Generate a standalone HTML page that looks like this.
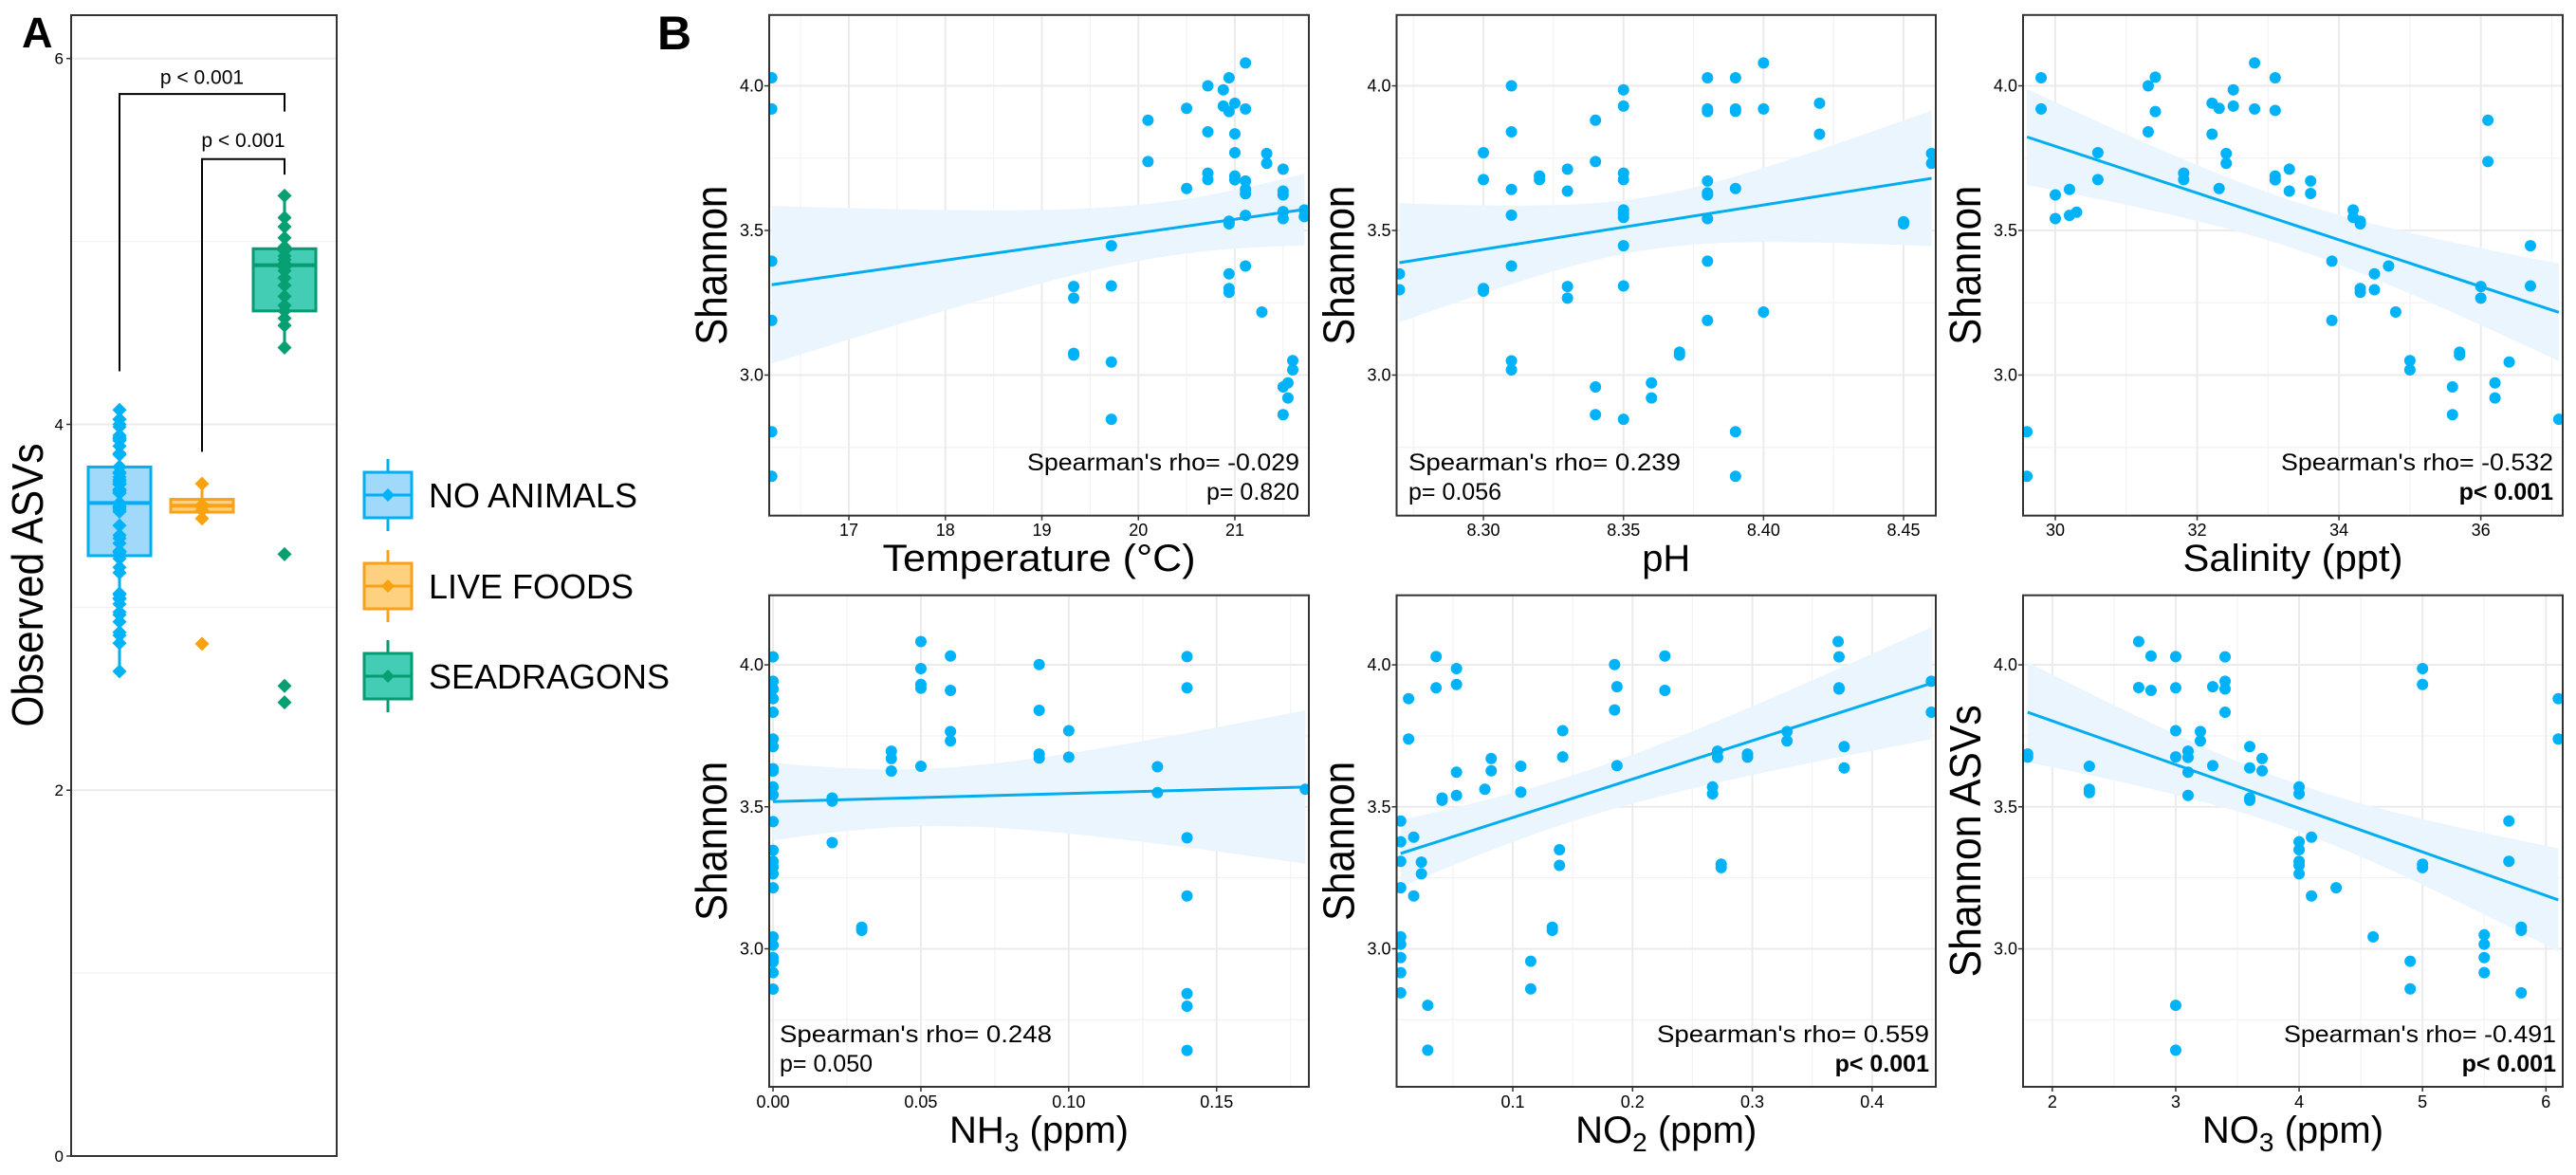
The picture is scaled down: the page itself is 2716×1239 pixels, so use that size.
<!DOCTYPE html>
<html><head><meta charset="utf-8"><style>
html,body{margin:0;padding:0;background:#fff}
svg{display:block}
text{font-family:"Liberation Sans Narrow","Liberation Sans",sans-serif;fill:#000}
</style></head><body>
<svg id="fig" width="2716" height="1239" viewBox="0 0 2716 1239" xmlns="http://www.w3.org/2000/svg">
<rect width="2716" height="1239" fill="#fff"/>
<text x="23" y="50" style="font-family:'Liberation Sans',sans-serif;font-weight:bold;font-size:45px">A</text>
<text x="693" y="52" style="font-family:'Liberation Sans',sans-serif;font-weight:bold;font-size:50px">B</text>
</svg>
<script>
// ---------- Panel A data ----------
const groupNames = ['NO ANIMALS','LIVE FOODS','SEADRAGONS'];
const boxQ1 = [3.282, 3.52, 4.62];
const boxMed = [3.57, 3.555, 4.87];
const boxQ3 = [3.767, 3.59, 4.96];
const whiskLo = [2.65, 3.485, 4.42];
const whiskHi = [4.08, 3.675, 5.25];
const noAnimalsPts = [4.028,3.920,3.394,3.189,2.804,2.650,3.306,3.266,3.075,3.069,3.447,3.308,3.045,2.847,3.881,3.738,3.922,3.645,4.0,3.841,3.698,3.676,3.986,3.930,4.028,3.911,3.532,3.523,3.350,3.299,3.286,3.940,3.834,3.769,3.688,3.675,4.079,3.920,3.671,3.642,3.627,3.552,3.377,3.218,3.766,3.732,3.712,3.636,3.623,3.565,3.541,2.959,2.863,2.973,2.921,3.050,3.018,3.571,3.548];
const liveFoodsPts = [3.675,3.56,3.55,3.53,3.485,2.80];
const seadragonsPts = [5.25,5.13,5.08,5.02,4.97,4.95,4.92,4.90,4.88,4.86,4.84,4.80,4.76,4.70,4.65,4.62,4.58,4.54,4.42,3.29,2.57,2.48];
const aTicks = [0,2,4,6];
const aTickLabels = ['0','2','4','6'];
const pLabels = ['p < 0.001','p < 0.001'];

// ---------- Panel B data ----------
const tempX = [16.2,16.2,16.2,16.2,16.2,16.2,19.33,19.33,19.33,19.33,19.72,19.72,19.72,19.72,20.1,20.1,20.5,20.5,20.72,20.72,20.72,20.72,20.88,20.88,20.94,20.94,20.94,20.94,20.94,20.94,20.94,21.0,21.0,21.0,21.0,21.0,21.11,21.11,21.11,21.11,21.11,21.11,21.11,21.28,21.33,21.33,21.5,21.5,21.5,21.5,21.5,21.5,21.5,21.55,21.55,21.6,21.6,21.72,21.72];
const tempY = [4.028,3.920,3.394,3.189,2.804,2.650,3.306,3.266,3.075,3.069,3.447,3.308,3.045,2.847,3.881,3.738,3.922,3.645,4.0,3.841,3.698,3.676,3.986,3.930,4.028,3.911,3.532,3.523,3.350,3.299,3.286,3.940,3.834,3.769,3.688,3.675,4.079,3.920,3.671,3.642,3.627,3.552,3.377,3.218,3.766,3.732,3.712,3.636,3.623,3.565,3.541,2.959,2.863,2.973,2.921,3.050,3.018,3.571,3.548];
const phX = [8.27,8.27,8.30,8.30,8.30,8.30,8.31,8.31,8.31,8.31,8.31,8.31,8.31,8.32,8.32,8.33,8.33,8.33,8.33,8.34,8.34,8.34,8.34,8.35,8.35,8.35,8.35,8.35,8.35,8.35,8.35,8.35,8.35,8.36,8.36,8.37,8.37,8.38,8.38,8.38,8.38,8.38,8.38,8.38,8.38,8.38,8.39,8.39,8.39,8.39,8.39,8.39,8.40,8.40,8.40,8.42,8.42,8.45,8.45,8.46,8.46];
const phY = [3.350,3.295,3.769,3.676,3.299,3.290,4.0,3.841,3.642,3.553,3.377,3.049,3.018,3.688,3.676,3.712,3.636,3.306,3.266,3.881,3.738,2.959,2.863,3.986,3.930,3.698,3.676,3.571,3.558,3.545,3.447,3.308,2.847,2.973,2.921,3.079,3.069,4.028,3.920,3.911,3.671,3.630,3.623,3.541,3.394,3.189,4.028,3.920,3.912,3.645,2.804,2.650,4.079,3.920,3.218,3.940,3.833,3.530,3.523,3.766,3.732];
const salX = [29.6,29.6,29.8,29.8,30.0,30.0,30.2,30.2,30.3,30.6,30.6,31.31,31.31,31.41,31.41,31.81,31.81,32.21,32.21,32.31,32.31,32.41,32.41,32.51,32.51,32.81,32.81,33.1,33.1,33.1,33.1,33.3,33.3,33.6,33.6,33.9,33.9,34.2,34.2,34.3,34.3,34.3,34.3,34.5,34.5,34.7,34.8,35.0,35.0,35.6,35.6,35.7,35.7,36.0,36.0,36.1,36.1,36.2,36.2,36.4,36.7,36.7,37.1];
const salY = [2.804,2.650,4.028,3.920,3.623,3.541,3.642,3.552,3.563,3.769,3.676,4.0,3.841,4.030,3.911,3.698,3.676,3.940,3.833,3.922,3.645,3.766,3.732,3.986,3.930,4.079,3.920,4.028,3.915,3.688,3.675,3.712,3.636,3.671,3.628,3.394,3.189,3.571,3.545,3.532,3.523,3.299,3.286,3.350,3.295,3.377,3.218,3.050,3.018,2.959,2.863,3.079,3.069,3.306,3.266,3.881,3.738,2.973,2.921,3.045,3.447,3.308,2.847];
const nh3X = [0,0,0,0,0,0,0,0,0,0,0,0,0,0,0,0,0,0,0,0,0,0,0,0.02,0.02,0.02,0.03,0.03,0.04,0.04,0.04,0.05,0.05,0.05,0.05,0.05,0.06,0.06,0.06,0.06,0.09,0.09,0.09,0.09,0.10,0.10,0.13,0.13,0.14,0.14,0.14,0.14,0.14,0.14,0.14,0.18];
const nh3Y = [4.028,3.942,3.915,3.881,3.833,3.739,3.712,3.634,3.626,3.570,3.542,3.448,3.347,3.308,3.288,3.264,3.215,3.042,3.013,2.969,2.954,2.916,2.858,3.531,3.520,3.374,3.076,3.065,3.696,3.670,3.626,4.082,3.987,3.931,3.918,3.643,4.031,3.910,3.765,3.732,4.001,3.840,3.686,3.672,3.768,3.675,3.641,3.550,4.029,3.919,3.391,3.186,2.842,2.798,2.642,3.562];
const no2X = [0.0064,0.0064,0.0064,0.0064,0.0064,0.0064,0.0064,0.0064,0.0064,0.013,0.013,0.0173,0.0173,0.0237,0.0237,0.029,0.029,0.036,0.036,0.041,0.041,0.053,0.053,0.053,0.053,0.0767,0.082,0.082,0.1067,0.1067,0.115,0.115,0.133,0.133,0.139,0.139,0.1417,0.1417,0.185,0.185,0.187,0.187,0.227,0.227,0.2668,0.2668,0.271,0.271,0.274,0.274,0.296,0.296,0.329,0.329,0.3717,0.3724,0.3724,0.3724,0.3767,0.3767,0.4495,0.4495];
const no2Y = [3.450,3.377,3.308,3.215,3.042,3.016,2.969,2.916,2.845,3.881,3.739,3.393,3.186,3.305,3.264,2.801,2.643,4.029,3.919,3.531,3.523,3.987,3.931,3.622,3.540,3.562,3.670,3.627,3.643,3.552,2.956,2.859,3.076,3.065,3.349,3.294,3.768,3.676,4.001,3.841,3.923,3.645,4.031,3.910,3.570,3.546,3.696,3.674,3.298,3.286,3.686,3.675,3.765,3.732,4.082,4.028,3.919,3.915,3.712,3.637,3.942,3.833];
const no3X = [1.8,1.8,2.3,2.3,2.3,2.7,2.7,2.8,2.8,3.0,3.0,3.0,3.0,3.0,3.0,3.1,3.1,3.1,3.1,3.2,3.2,3.3,3.3,3.4,3.4,3.4,3.4,3.6,3.6,3.6,3.6,3.7,3.7,4.0,4.0,4.0,4.0,4.0,4.0,4.0,4.1,4.1,4.3,4.6,4.9,4.9,5.0,5.0,5.0,5.0,5.5,5.5,5.5,5.5,5.7,5.7,5.8,5.8,5.8,6.1,6.1];
const no3Y = [3.686,3.675,3.643,3.562,3.550,4.082,3.920,4.031,3.910,4.029,3.919,3.768,3.676,2.801,2.643,3.696,3.674,3.622,3.540,3.765,3.732,3.923,3.645,4.028,3.942,3.915,3.833,3.712,3.637,3.531,3.523,3.670,3.627,3.570,3.546,3.377,3.349,3.308,3.294,3.264,3.393,3.186,3.215,3.042,2.956,2.859,3.987,3.931,3.298,3.286,3.049,3.016,2.969,2.916,3.450,3.308,3.076,3.065,2.845,3.881,3.739];
const yTicksB = [3.0,3.5,4.0];
const yTickLabelsB = ['3.0','3.5','4.0'];
const tempTicks = [17,18,19,20,21];
const phTicks = [8.30,8.35,8.40,8.45];
const phTickLabels = ['8.30','8.35','8.40','8.45'];
const salTicks = [30,32,34,36];
const nh3Ticks = [0,0.05,0.10,0.15];
const nh3TickLabels = ['0.00','0.05','0.10','0.15'];
const no2Ticks = [0.1,0.2,0.3,0.4];
const no3Ticks = [2,3,4,5,6];
const rhoLabels = ["Spearman's rho= -0.029","Spearman's rho= 0.239","Spearman's rho= -0.532","Spearman's rho= 0.248","Spearman's rho= 0.559","Spearman's rho= -0.491"];
const pValLabels = ["p= 0.820","p= 0.056","p< 0.001","p= 0.050","p< 0.001","p< 0.001"];

const NS='http://www.w3.org/2000/svg';
const svg=document.getElementById('fig');
function mk(tag,attrs,parent,txt){const e=document.createElementNS(NS,tag);for(const k in attrs)e.setAttribute(k,attrs[k]);if(txt!==undefined)e.textContent=txt;(parent||svg).appendChild(e);return e;}

// ---------- Panel A ----------
(function(){
  const L=75,R=355,T=16,B=1219;
  const ya=v=>B-(v-0)*(B-61.7)/6;
  const g=mk('g',{});
  
  
  [1,3,5].forEach(v=>{const l=mk('line',{x1:L,x2:R,y1:ya(v),y2:ya(v),stroke:'#f2f2f2','stroke-width':1.2},g);});
  aTicks.forEach((v,i)=>{const l=mk('line',{x1:L,x2:R,y1:ya(v),y2:ya(v),stroke:'#ebebeb','stroke-width':2},g);
    const tk=mk('line',{x1:L-5,x2:L,y1:ya(v),y2:ya(v),stroke:'#333','stroke-width':1.5},g);
    const t=mk('text',{x:L-8,y:ya(v)+6,'text-anchor':'end','font-size':17,fill:'#222'},g,aTickLabels[i]);});
  const cx=[126,213,300], hw=33;
  const stroke=['#00aff0','#f8a11a','#079b71'], fill=['#a1d9fb','#fdd17f','#43cdb5'], dot=['#00b2f7','#f8a210','#06a072'];
  const pts=[noAnimalsPts,liveFoodsPts,seadragonsPts];
  for(let i=0;i<3;i++){
    const w=mk('line',{x1:cx[i],x2:cx[i],y1:ya(whiskLo[i]),y2:ya(whiskHi[i]),stroke:stroke[i],'stroke-width':3},g);
    const r=mk('rect',{x:cx[i]-hw,y:ya(boxQ3[i]),width:2*hw,height:ya(boxQ1[i])-ya(boxQ3[i]),fill:fill[i],stroke:stroke[i],'stroke-width':3},g);
    const m=mk('line',{x1:cx[i]-hw,x2:cx[i]+hw,y1:ya(boxMed[i]),y2:ya(boxMed[i]),stroke:stroke[i],'stroke-width':4},g);
    pts[i].forEach(v=>{const y=ya(v);const d=mk('polygon',{points:`${cx[i]},${y-7.5} ${cx[i]+7.5},${y} ${cx[i]},${y+7.5} ${cx[i]-7.5},${y}`,fill:dot[i]},g);});
  }
  mk('rect',{x:L,y:T,width:R-L,height:B-T,fill:'none',stroke:'#333','stroke-width':2},g);
  const br=[[0,4.29,5.71,5.806,5.86],[1,3.85,5.365,5.45,5.516]];
  br.forEach((b,k)=>{const x1=cx[b[0]],x2=cx[2];
    const p=mk('polyline',{points:`${x1},${ya(b[1])} ${x1},${ya(b[3])} ${x2},${ya(b[3])} ${x2},${ya(b[2])}`,fill:'none',stroke:'#000','stroke-width':2},g);
    const t=mk('text',{x:(x1+x2)/2,y:ya(b[4]),'text-anchor':'middle','font-size':21,style:"font-family:'Liberation Sans',sans-serif"},g,pLabels[k]);});
  const yt=mk('text',{x:0,y:0,transform:'translate(45,617) rotate(-90)','text-anchor':'middle','font-size':46,textLength:299,lengthAdjust:'spacingAndGlyphs'},g,'Observed ASVs');
  const lc=[522,618,713];
  for(let i=0;i<3;i++){
    const lg=mk('g',{},g);
    mk('line',{x1:409,x2:409,y1:lc[i]-38,y2:lc[i]+38,stroke:stroke[i],'stroke-width':3},lg);
    mk('rect',{x:384,y:lc[i]-24,width:50,height:48,fill:fill[i],stroke:stroke[i],'stroke-width':3},lg);
    mk('line',{x1:384,x2:434,y1:lc[i],y2:lc[i],stroke:stroke[i],'stroke-width':3},lg);
    mk('polygon',{points:`409,${lc[i]-7} 416,${lc[i]} 409,${lc[i]+7} 402,${lc[i]}`,fill:dot[i]},lg);
    mk('text',{x:452,y:lc[i]+13,'font-size':36,style:"font-family:'Liberation Sans',sans-serif"},lg,groupNames[i]);
  }
})();

// ---------- Panel B ----------
const panels=[
 {x0:811,x1:1380,row:0,dom:[16.174,21.767],ticks:tempTicks,labels:tempTicks.map(String),xs:tempX,ys:tempY,title:'Temperature (°C)',sub:null,tw:330,yl:'Shannon',ylw:168,ann:'right',ax:1370,name:'temperature'},
 {x0:1472.5,x1:2041,row:0,dom:[8.269,8.4615],ticks:phTicks,labels:phTickLabels,xs:phX,ys:phY,title:'pH',sub:null,tw:51,yl:'Shannon',ylw:168,ann:'left',ax:1485,name:'ph'},
 {x0:2133,x1:2702,row:0,dom:[29.545,37.155],ticks:salTicks,labels:salTicks.map(String),xs:salX,ys:salY,title:'Salinity (ppt)',sub:null,tw:232,yl:'Shannon',ylw:168,ann:'right',ax:2692,name:'salinity'},
 {x0:811,x1:1380,row:1,dom:[-0.0013,0.1812],ticks:nh3Ticks,labels:nh3TickLabels,xs:nh3X,ys:nh3Y,title:'NH',sub:'3',tw:201,yl:'Shannon',ylw:168,ann:'left',ax:822,name:'nh3'},
 {x0:1472.5,x1:2041,row:1,dom:[0.003,0.4532],ticks:no2Ticks,labels:no2Ticks.map(String),xs:no2X,ys:no2Y,title:'NO',sub:'2',tw:201,yl:'Shannon',ylw:168,ann:'right',ax:2034,name:'no2'},
 {x0:2133,x1:2702,row:1,dom:[1.763,6.136],ticks:no3Ticks,labels:no3Ticks.map(String),xs:no3X,ys:no3Y,title:'NO',sub:'3',tw:201,yl:'Shannon ASVs',ylw:287,ann:'right',ax:2695,name:'no3'}
];
const rows=[{y0:15.8,y1:543.7},{y0:627.7,y1:1146}];
const yDom=[2.514,4.245];
panels.forEach((P,pi)=>{
  const R=rows[P.row];
  const sx=v=>P.x0+(v-P.dom[0])/(P.dom[1]-P.dom[0])*(P.x1-P.x0);
  const sy=v=>R.y1-(v-yDom[0])/(yDom[1]-yDom[0])*(R.y1-R.y0);
  const g=mk('g',{});
  
  
  const cid='clip'+pi;
  const cp=mk('clipPath',{id:cid},g);mk('rect',{x:P.x0,y:R.y0,width:P.x1-P.x0,height:R.y1-R.y0},cp);
  const tstep=P.ticks[1]-P.ticks[0];
  const minors=[];for(let v=P.ticks[0]-tstep/2;v<=P.dom[1];v+=tstep){if(v>=P.dom[0])minors.push(v);}
  minors.forEach(v=>{const l=mk('line',{x1:sx(v),x2:sx(v),y1:R.y0,y2:R.y1,stroke:'#f3f3f3','stroke-width':1.2},g);});
  [2.75,3.25,3.75].forEach(v=>{const l=mk('line',{x1:P.x0,x2:P.x1,y1:sy(v),y2:sy(v),stroke:'#f3f3f3','stroke-width':1.2},g);});
  P.ticks.forEach(v=>{const l=mk('line',{x1:sx(v),x2:sx(v),y1:R.y0,y2:R.y1,stroke:'#ebebeb','stroke-width':2},g);});
  yTicksB.forEach(v=>{const l=mk('line',{x1:P.x0,x2:P.x1,y1:sy(v),y2:sy(v),stroke:'#ebebeb','stroke-width':2},g);});
  const n=P.xs.length;let mx=0,my=0;for(let i=0;i<n;i++){mx+=P.xs[i];my+=P.ys[i];}mx/=n;my/=n;
  let sxx=0,sxy=0;for(let i=0;i<n;i++){sxx+=(P.xs[i]-mx)**2;sxy+=(P.xs[i]-mx)*(P.ys[i]-my);}
  const b=sxy/sxx,a=my-b*mx;let sse=0;for(let i=0;i<n;i++)sse+=(P.ys[i]-a-b*P.xs[i])**2;
  const s=Math.sqrt(sse/(n-2)),t=2.0;
  const xmin=Math.min(...P.xs),xmax=Math.max(...P.xs);
  const up=[],lo=[];for(let k=0;k<=80;k++){const x=xmin+(xmax-xmin)*k/80;const f=a+b*x;const se=s*Math.sqrt(1/n+(x-mx)**2/sxx);up.push(sx(x)+','+sy(f+t*se));lo.unshift(sx(x)+','+sy(f-t*se));}
  const band=mk('polygon',{points:up.concat(lo).join(' '),fill:'#eaf5fd','clip-path':`url(#${cid})`},g);
  P.xs.forEach((x,i)=>{const c=mk('circle',{cx:sx(x),cy:sy(P.ys[i]),r:6,fill:'#00b2f7','clip-path':`url(#${cid})`},g);});
  const ln=mk('line',{x1:sx(xmin),y1:sy(a+b*xmin),x2:sx(xmax),y2:sy(a+b*xmax),stroke:'#00aeef','stroke-width':3},g);
  const fr=mk('rect',{x:P.x0,y:R.y0,width:P.x1-P.x0,height:R.y1-R.y0,fill:'none',stroke:'#333','stroke-width':2},g);
  yTicksB.forEach((v,i)=>{mk('line',{x1:P.x0-5,x2:P.x0,y1:sy(v),y2:sy(v),stroke:'#333','stroke-width':1.5},g);
    const tl=mk('text',{x:P.x0-6,y:sy(v)+6,'text-anchor':'end','font-size':18,fill:'#222'},g,yTickLabelsB[i]);});
  const lbY=P.row===0?565:1168;
  P.ticks.forEach((v,i)=>{mk('line',{x1:sx(v),x2:sx(v),y1:R.y1,y2:R.y1+5,stroke:'#333','stroke-width':1.5},g);
    const tl=mk('text',{x:sx(v),y:lbY,'text-anchor':'middle','font-size':18,fill:'#222'},g,P.labels[i]);});
  const cxT=(P.x0+P.x1)/2, tyB=P.row===0?602:1205;
  const xt=mk('text',{x:cxT,y:tyB,'text-anchor':'middle','font-size':40},g);
  
  if(P.sub){xt.appendChild(document.createTextNode(P.title));mk('tspan',{'font-size':28,dy:9},xt,P.sub);mk('tspan',{dy:-9},xt,' (ppm)');}
  else{xt.setAttribute('textLength',P.tw);xt.setAttribute('lengthAdjust','spacingAndGlyphs');xt.textContent=P.title;}
  const ycx=P.x0-62, ycy=(R.y0+R.y1)/2;
  const yt=mk('text',{x:0,y:0,transform:`translate(${ycx+17},${ycy}) rotate(-90)`,'text-anchor':'middle','font-size':46,textLength:P.ylw,lengthAdjust:'spacingAndGlyphs'},g,P.yl);
  
  const b1=P.row===0?496:1099,b2=P.row===0?527:1130;
  const anc=P.ann==='right'?'end':'start';
  const r1=mk('text',{x:P.ax,y:b1,'text-anchor':anc,'font-size':25,textLength:287,lengthAdjust:'spacingAndGlyphs'},g,rhoLabels[pi]);
  const bold=pValLabels[pi].indexOf('<')>=0;
  const r2=mk('text',{x:P.ax,y:b2,'text-anchor':anc,'font-size':25,'font-weight':bold?'bold':'normal'},g,pValLabels[pi]);
});
</script>
</body></html>
